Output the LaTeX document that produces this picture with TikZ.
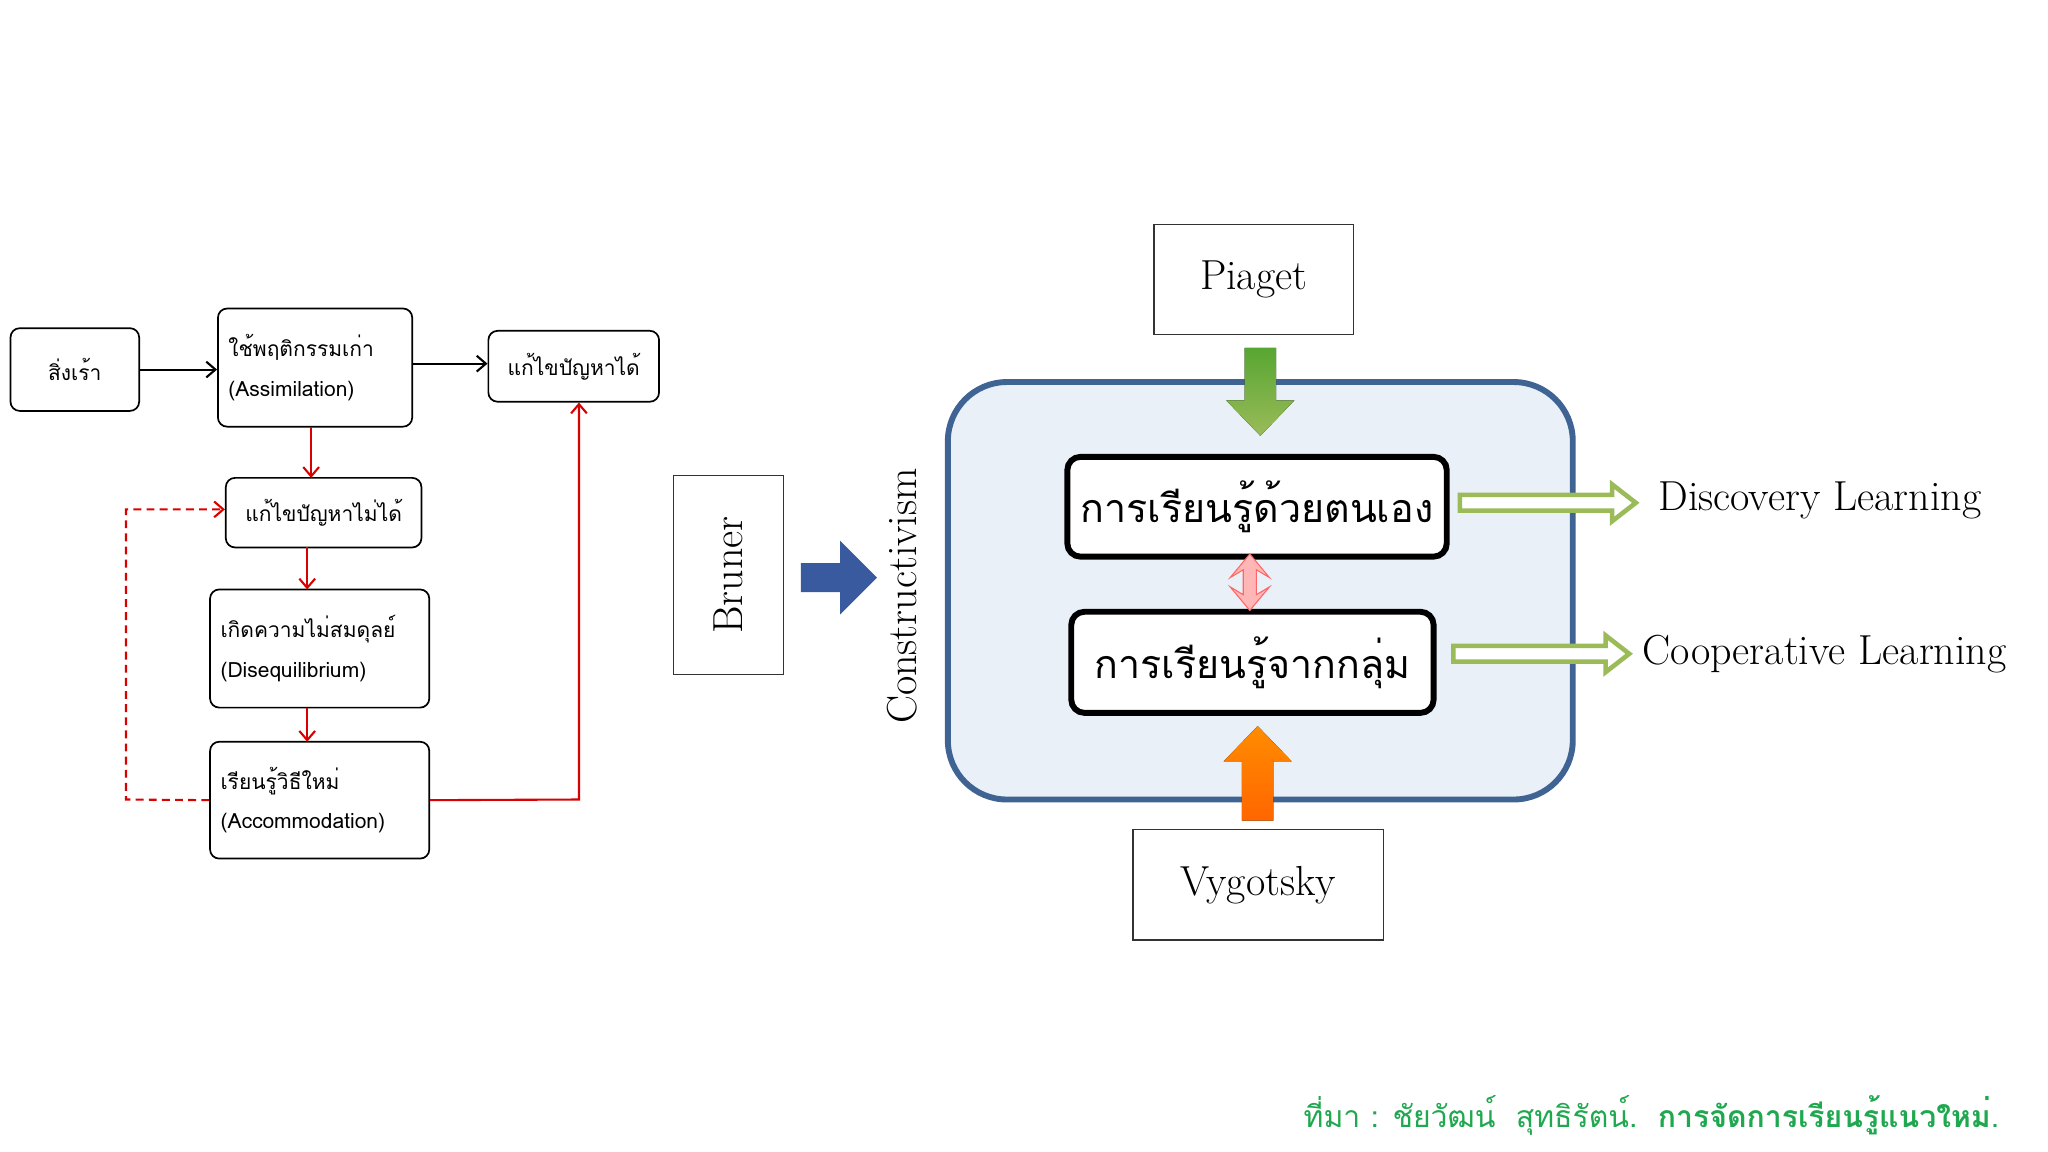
\documentclass[tikz,border=0pt]{standalone}
\usepackage{fontspec}
\def\pickthai#1{%
 \IfFontExistsTF{Garuda.otf}{\newfontfamily#1{Garuda.otf}[BoldFont=Garuda-Bold.otf]}{%
 \IfFontExistsTF{Loma.otf}{\newfontfamily#1{Loma.otf}[BoldFont=Loma-Bold.otf]}{%
 \newfontfamily#1{DejaVu Sans}}}}
\pickthai\thai
\let\thaiserif\thai
\usetikzlibrary{arrows.meta}
\definecolor{gfoot}{HTML}{1FA84F}
\definecolor{bborder}{HTML}{3F6494}
\definecolor{bfill}{HTML}{EAF0F8}
\definecolor{hgreen}{HTML}{9BBB59}
\tikzset{
 lbox/.style={draw,rounded corners=7pt,line width=1.3pt,font=\thai\fontsize{16}{30}\selectfont,align=left,inner xsep=8pt,inner ysep=0pt},
 pbox/.style={draw=black!80,line width=0.8pt,font=\fontsize{32}{36}\selectfont,inner sep=0pt},
 tbox/.style={draw,fill=white,rounded corners=10pt,line width=4.5pt,font=\thaiserif\fontsize{30}{36}\selectfont,inner sep=0pt},
 blk/.style={-{Straight Barb[length=7pt,width=12pt]},line width=1.6pt},
 red/.style={-{Straight Barb[length=7pt,width=12pt]},line width=1.6pt,draw=red!85!black},
}
\begin{document}
\begin{tikzpicture}[x=1pt,y=-1pt]
\useasboundingbox (0,0) rectangle (1560,877.5);
% left diagram
\node[lbox,minimum width=98pt,minimum height=63pt,align=center] (s) at (57,281.5) {สิ่งเร้า};
\node[lbox,minimum width=148pt,minimum height=90pt,text width=132pt] (a) at (240,280) {ใช้พฤติกรรมเก่า\\(Assimilation)};
\node[lbox,minimum width=130pt,minimum height=54pt,align=center] (ok) at (437,279) {แก้ไขปัญหาได้};
\node[lbox,minimum width=149pt,minimum height=53pt,align=center] (no) at (246.5,390.5) {แก้ไขปัญหาไม่ได้};
\node[lbox,minimum width=167pt,minimum height=90pt,text width=151pt] (d) at (243.5,494) {เกิดความไม่สมดุลย์\\(Disequilibrium)};
\node[lbox,minimum width=167pt,minimum height=89pt,text width=151pt] (ac) at (243.5,609.5) {เรียนรู้วิธีใหม่\\(Accommodation)};
\draw[blk] (s.east) -- (a.west |- s.east);
\draw[blk] (a.east |- 0,277) -- (ok.west |- 0,277);
\draw[red] (237,325) -- (237,364);
\draw[red] (234,417) -- (234,449);
\draw[red] (234,539) -- (234,565);
\coordinate (r1) at (441,609);
\draw[red] (ac.east) -- (r1) -- (ok.south -| r1);
\coordinate (d1) at (96,609);
\coordinate (d2) at (96,388);
\draw[red,dashed,dash pattern=on 6pt off 4pt] (ac.west) -- (d1) -- (d2) -- (no.west |- d2);
% right diagram
\node[pbox,minimum width=152pt,minimum height=84pt] (pi) at (955,213) {Piaget};
\node[pbox,minimum width=191pt,minimum height=84pt] (vy) at (958.5,674) {Vygotsky};
\node[pbox,minimum width=84pt,minimum height=152pt] (br) at (555,438) {\rotatebox{90}{Bruner}};
\draw[bborder,fill=bfill,line width=4.5pt,rounded corners=45pt] (722,291) rectangle (1198,609);
\node[font=\fontsize{32}{36}\selectfont,rotate=90] (con) at (687,454) {Constructivism};
\node[tbox,minimum width=289pt,minimum height=76pt] (t1) at (957.5,386) {การเรียนรู้ด้วยตนเอง};
\node[tbox,minimum width=276pt,minimum height=77pt] (t2) at (954,504.5) {การเรียนรู้จากกลุ่ม};
% green down arrow
\fill[top color=hgreen!70!green!80!black,bottom color=hgreen] (948,265) -- (972,265) -- (972,305) -- (986,305) -- (960,332) -- (934,305) -- (948,305) -- cycle;
% orange up arrow
\fill[top color=orange!90!yellow,bottom color=orange!80!red] (946,625) -- (970,625) -- (970,580) -- (984,580) -- (958,553) -- (932,580) -- (946,580) -- cycle;
% pink double arrow
\fill[pink!70!red!60,draw=red!60,line width=0.8pt] (947,434) -- (937,440) -- (952,422) -- (967,440) -- (957,434) -- (957,453) -- (967,447) -- (952,465) -- (937,447) -- (947,453) -- cycle;
% blue arrow
\fill[bborder!90!blue] (610,429) -- (640,429) -- (640,412) -- (668,440) -- (640,468) -- (640,451) -- (610,451) -- cycle;
% hollow green arrows
\draw[hgreen,fill=white,line width=3.5pt,line join=miter] (1112,377) -- (1228,377) -- (1228,369) -- (1246,383) -- (1228,397) -- (1228,389) -- (1112,389) -- cycle;
\draw[hgreen,fill=white,line width=3.5pt,line join=miter] (1107,492) -- (1223,492) -- (1223,484) -- (1241,498) -- (1223,512) -- (1223,504) -- (1107,504) -- cycle;
\node[font=\fontsize{32}{36}\selectfont,anchor=west,inner sep=0pt] (dl) at (1263,381) {Discovery Learning};
\node[font=\fontsize{32}{36}\selectfont,anchor=west,inner sep=0pt] (cl) at (1251,498) {Cooperative Learning};
% footer
\node[font=\thai\fontsize{23}{28}\selectfont,text=gfoot,anchor=east,inner sep=0pt] (ft) at (1523,850) {ที่มา : ชัยวัฒน์~~สุทธิรัตน์.~~\textbf{การจัดการเรียนรู้แนวใหม่}.};
\end{tikzpicture}
\end{document}
